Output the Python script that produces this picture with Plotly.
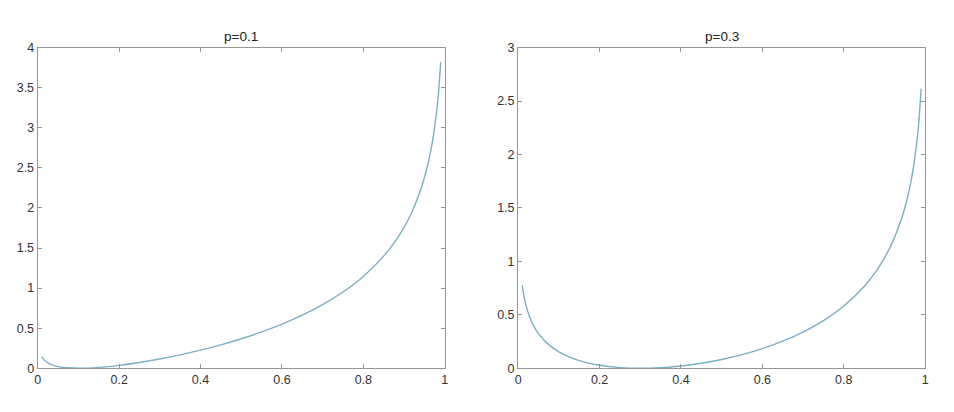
import plotly.graph_objects as go

q_vals = [0.01, 0.015, 0.02, 0.03, 0.04, 0.05, 0.07, 0.10, 0.15, 0.20, 0.25, 0.30, 0.35, 0.40,
          0.45, 0.50, 0.55, 0.60, 0.65, 0.70, 0.75, 0.80, 0.85, 0.88, 0.90, 0.92,
          0.94, 0.95, 0.96, 0.97, 0.98, 0.985, 0.99]

y_p01 = [0.1445, 0.1085, 0.0843, 0.0530, 0.0335, 0.0207, 0.0062, 0.0, 0.0109, 0.0367, 0.0725,
         0.1163, 0.1676, 0.2263, 0.2928, 0.3681, 0.4534, 0.5507, 0.6628, 0.7942,
         0.9514, 1.1457, 1.3986, 1.5959, 1.7578, 1.9564, 2.2132, 2.3762, 2.5760,
         2.8339, 3.1978, 3.4562, 3.8206]

y_p03 = [0.7777, 0.6596, 0.5769, 0.4624, 0.3834, 0.3238, 0.2377, 0.1537, 0.0720, 0.0282, 0.0064,
         0.0, 0.0056, 0.0216, 0.0472, 0.0823, 0.1274, 0.1838, 0.2532, 0.3389,
         0.4458, 0.5827, 0.7659, 0.9117, 1.0326, 1.1822, 1.3771, 1.5015, 1.6546,
         1.8529, 2.1336, 2.3335, 2.6158]

titles = ["p=0.1", "p=0.3"]
x_ticks = [0, 0.2, 0.4, 0.6, 0.8, 1]
y1_ticks = [0, 0.5, 1, 1.5, 2, 2.5, 3, 3.5, 4]
y2_ticks = [0, 0.5, 1, 1.5, 2, 2.5, 3]

W, H = 954, 412
line_color = "#7ab0c0"
axis_color = "#969696"
font_color = "#333333"
FONT = "Liberation Sans, Arial, sans-serif"

def px_x(x):
    return x / W

def px_y(y):
    return 1 - y / H

fig = go.Figure()
fig.add_trace(go.Scatter(x=q_vals, y=y_p01, mode="lines", line=dict(color=line_color, width=1.4, shape="spline"),
                         xaxis="x", yaxis="y", showlegend=False))
fig.add_trace(go.Scatter(x=q_vals, y=y_p03, mode="lines", line=dict(color=line_color, width=1.4, shape="spline"),
                         xaxis="x2", yaxis="y2", showlegend=False))

yd = [px_y(374), px_y(42)]
d1 = [px_x(35), px_x(445)]
d2 = [px_x(519), px_x(929)]

common = dict(showline=True, mirror="ticks", linecolor=axis_color, linewidth=1.3,
              ticks="inside", ticklen=4, tickcolor=axis_color, showgrid=False, zeroline=False,
              tickfont=dict(family=FONT, size=12.5, color=font_color))

fig.update_layout(
    width=W, height=H, margin=dict(l=0, r=0, t=0, b=0),
    paper_bgcolor="white", plot_bgcolor="white",
    xaxis=dict(domain=d1, range=[0, 1], tickvals=x_ticks, anchor="y", **common),
    yaxis=dict(domain=yd, range=[0, 4], tickvals=y1_ticks, anchor="x", **common),
    xaxis2=dict(domain=d2, range=[0, 1], tickvals=x_ticks, anchor="y2", **common),
    yaxis2=dict(domain=yd, range=[0, 3], tickvals=y2_ticks, anchor="x2", **common),
    annotations=[
        dict(text=titles[0], x=(d1[0] + d1[1]) / 2, y=yd[1], xref="paper", yref="paper",
             xanchor="center", yanchor="bottom", yshift=2, showarrow=False,
             font=dict(family=FONT, size=13.5, color="#222222")),
        dict(text=titles[1], x=(d2[0] + d2[1]) / 2, y=yd[1], xref="paper", yref="paper",
             xanchor="center", yanchor="bottom", yshift=2, showarrow=False,
             font=dict(family=FONT, size=13.5, color="#222222")),
    ],
)

fig.write_html("out.html", config={"displayModeBar": False},
               post_script="document.body.style.margin='0';document.body.style.overflow='hidden';")
